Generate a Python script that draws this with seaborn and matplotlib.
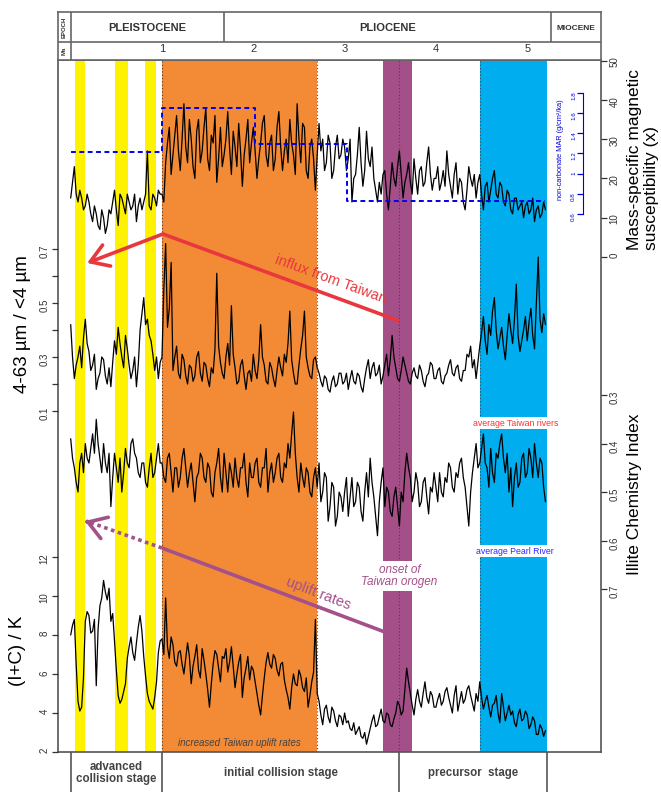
import numpy as np
import matplotlib
matplotlib.use("Agg")
import matplotlib.pyplot as plt
import seaborn as sns

sns.set_style("white")
plt.rcParams['font.family'] = ['Liberation Sans', 'DejaVu Sans']

# -----------------------------
# DATA
# -----------------------------
ages = np.round(np.arange(0.0, 5.2001, 0.02), 2)  # Ma, sample spacing

mag_sus = [15, 19, 23, 16, 14, 17, 15, 12, 13, 16, 14, 11, 9, 13, 11, 8, 7, 12, 10, 6, 8, 12, 11, 14, 17,
           12, 8, 16, 15, 13, 11, 16, 14, 12, 13, 16, 9, 13, 15, 12, 14, 16, 27, 13, 12, 16, 15, 13, 17, 16,
           16, 14, 24, 29, 33, 21, 26, 31, 36, 27, 22, 30, 39, 28, 24, 35, 30, 23, 20, 32, 35, 24, 27, 33, 38,
           25, 22, 31, 29, 36, 19, 25, 33, 23, 26, 30, 37, 28, 21, 32, 28, 23, 34, 27, 18, 26, 30, 35, 24, 29,
           33, 27, 20, 25, 29, 34, 36, 26, 23, 29, 31, 22, 25, 33, 37, 28, 22, 27, 30, 24, 35, 29, 26, 21, 39,
           30, 24, 34, 33, 22, 20, 28, 30, 25, 17, 26, 34, 27, 30, 22, 24, 31, 29, 20, 22, 28, 31, 25, 26, 30,
           28, 22, 25, 30, 14, 20, 21, 26, 33, 24, 18, 22, 32, 25, 23, 28, 20, 17, 14, 19, 16, 21, 22, 16, 12,
           18, 24, 20, 18, 23, 27, 21, 15, 19, 21, 24, 19, 16, 25, 20, 16, 22, 23, 18, 19, 24, 28, 21, 17, 20,
           20, 23, 17, 19, 22, 18, 27, 21, 18, 15, 21, 24, 16, 20, 19, 14, 12, 17, 23, 20, 18, 21, 15, 19, 21,
           16, 12, 18, 19, 14, 17, 20, 22, 16, 15, 19, 18, 14, 13, 17, 16, 12, 11, 15, 15, 12, 13, 14, 10, 13,
           14, 11, 12, 15, 9, 12, 13, 10, 11, 14, 12]

grain_ratio = [0.42, 0.30, 0.22, 0.27, 0.30, 0.34, 0.26, 0.37, 0.44, 0.35, 0.32, 0.25, 0.27, 0.31, 0.18, 0.22, 0.24, 0.30, 0.29, 0.23, 0.20, 0.26, 0.19, 0.28, 0.36,
               0.31, 0.41, 0.35, 0.30, 0.26, 0.38, 0.33, 0.27, 0.22, 0.25, 0.30, 0.19, 0.27, 0.40, 0.46, 0.52, 0.42, 0.44, 0.38, 0.36, 0.31, 0.25, 0.30, 0.22, 0.28,
               0.30, 0.55, 0.72, 0.41, 0.48, 0.65, 0.25, 0.30, 0.34, 0.24, 0.22, 0.31, 0.29, 0.23, 0.20, 0.27, 0.26, 0.21, 0.23, 0.30, 0.32, 0.24, 0.21, 0.28, 0.27,
               0.22, 0.19, 0.26, 0.24, 0.33, 0.61, 0.34, 0.28, 0.24, 0.22, 0.30, 0.35, 0.27, 0.49, 0.31, 0.26, 0.20, 0.21, 0.27, 0.29, 0.23, 0.18, 0.24, 0.25, 0.21,
               0.31, 0.25, 0.22, 0.29, 0.42, 0.30, 0.27, 0.21, 0.20, 0.28, 0.26, 0.22, 0.19, 0.25, 0.30, 0.26, 0.23, 0.31, 0.28, 0.35, 0.47, 0.29, 0.24, 0.20, 0.20,
               0.27, 0.33, 0.38, 0.47, 0.30, 0.26, 0.23, 0.22, 0.29, 0.30, 0.26, 0.24, 0.21, 0.19, 0.23, 0.22, 0.18, 0.17, 0.21, 0.23, 0.19, 0.20, 0.24, 0.24, 0.20,
               0.21, 0.24, 0.18, 0.22, 0.25, 0.21, 0.20, 0.24, 0.23, 0.19, 0.17, 0.22, 0.26, 0.29, 0.22, 0.26, 0.28, 0.23, 0.24, 0.27, 0.20, 0.23, 0.27, 0.31, 0.23,
               0.29, 0.38, 0.30, 0.26, 0.22, 0.21, 0.25, 0.30, 0.27, 0.24, 0.21, 0.20, 0.24, 0.26, 0.23, 0.22, 0.27, 0.25, 0.21, 0.19, 0.23, 0.24, 0.28, 0.27, 0.22,
               0.22, 0.25, 0.26, 0.21, 0.20, 0.23, 0.24, 0.27, 0.29, 0.24, 0.23, 0.26, 0.27, 0.22, 0.21, 0.25, 0.25, 0.31, 0.30, 0.34, 0.26, 0.29, 0.22, 0.28, 0.34,
               0.39, 0.45, 0.36, 0.31, 0.42, 0.38, 0.47, 0.52, 0.40, 0.33, 0.37, 0.41, 0.34, 0.29, 0.38, 0.46, 0.40, 0.35, 0.44, 0.57, 0.38, 0.32, 0.36, 0.40, 0.45,
               0.36, 0.43, 0.48, 0.38, 0.33, 0.50, 0.67, 0.44, 0.39, 0.46, 0.42]

illite_ci = [0.39, 0.43, 0.45, 0.48, 0.50, 0.44, 0.42, 0.46, 0.40, 0.43, 0.44, 0.41, 0.38, 0.42, 0.35, 0.40, 0.43, 0.46, 0.40, 0.44, 0.46, 0.42, 0.53, 0.47, 0.42,
             0.45, 0.48, 0.43, 0.50, 0.46, 0.41, 0.44, 0.45, 0.40, 0.39, 0.42, 0.43, 0.46, 0.47, 0.44, 0.44, 0.48, 0.49, 0.45, 0.42, 0.47, 0.46, 0.43, 0.40, 0.44,
             0.44, 0.47, 0.48, 0.43, 0.42, 0.46, 0.50, 0.45, 0.45, 0.49, 0.47, 0.43, 0.41, 0.45, 0.49, 0.46, 0.44, 0.48, 0.52, 0.47, 0.46, 0.42, 0.43, 0.47, 0.48,
             0.44, 0.45, 0.50, 0.51, 0.46, 0.44, 0.41, 0.47, 0.50, 0.42, 0.46, 0.50, 0.44, 0.46, 0.49, 0.43, 0.47, 0.49, 0.45, 0.45, 0.42, 0.48, 0.51, 0.44, 0.47,
             0.47, 0.44, 0.43, 0.48, 0.49, 0.45, 0.45, 0.41, 0.50, 0.46, 0.44, 0.48, 0.46, 0.43, 0.42, 0.47, 0.48, 0.44, 0.45, 0.40, 0.43, 0.38, 0.335, 0.42, 0.47,
             0.50, 0.44, 0.47, 0.49, 0.45, 0.46, 0.50, 0.51, 0.47, 0.45, 0.49, 0.44, 0.52, 0.50, 0.46, 0.47, 0.56, 0.53, 0.48, 0.49, 0.57, 0.55, 0.50, 0.51, 0.54,
             0.50, 0.47, 0.55, 0.51, 0.47, 0.53, 0.52, 0.48, 0.49, 0.54, 0.56, 0.50, 0.46, 0.51, 0.43, 0.48, 0.51, 0.55, 0.59, 0.52, 0.48, 0.45, 0.53, 0.49, 0.50,
             0.54, 0.55, 0.51, 0.49, 0.53, 0.57, 0.50, 0.52, 0.46, 0.42, 0.45, 0.47, 0.52, 0.50, 0.46, 0.48, 0.53, 0.52, 0.48, 0.47, 0.51, 0.545, 0.49, 0.50, 0.46,
             0.49, 0.52, 0.46, 0.50, 0.51, 0.47, 0.48, 0.44, 0.45, 0.49, 0.50, 0.46, 0.47, 0.44, 0.43, 0.47, 0.49, 0.53, 0.57, 0.50, 0.46, 0.43, 0.40, 0.45, 0.44,
             0.41, 0.38, 0.44, 0.45, 0.49, 0.41, 0.46, 0.48, 0.42, 0.43, 0.40, 0.38, 0.43, 0.46, 0.42, 0.50, 0.45, 0.53, 0.47, 0.44, 0.49, 0.48, 0.43, 0.42, 0.47,
             0.46, 0.41, 0.43, 0.47, 0.40, 0.44, 0.47, 0.43, 0.44, 0.49, 0.52]

ick = [8.0, 8.5, 8.8, 6.5, 4.6, 4.1, 4.3, 5.8, 8.7, 9.2, 9.0, 8.1, 8.2, 8.8, 5.4, 8.3, 9.5, 9.9, 10.8, 10.2, 9.8, 10.4, 8.7, 9.1, 7.7,
       6.2, 4.9, 4.5, 4.7, 5.1, 5.5, 6.8, 7.4, 7.9, 7.1, 6.7, 7.6, 8.4, 9.0, 8.2, 6.9, 5.9, 5.0, 4.6, 4.4, 4.2, 4.8, 5.6, 7.1, 7.7,
       7.8, 7.0, 9.9, 7.4, 6.8, 7.9, 7.5, 6.6, 6.4, 7.1, 7.2, 6.5, 6.0, 6.8, 7.6, 6.9, 5.5, 6.4, 6.9, 7.5, 6.2, 5.8, 7.3, 6.7, 6.0,
       5.2, 4.3, 5.5, 6.5, 7.2, 7.0, 6.3, 5.6, 6.9, 6.8, 7.3, 6.1, 6.6, 7.4, 6.4, 5.3, 6.0, 6.6, 7.0, 4.8, 5.8, 6.3, 6.9, 5.7, 6.4,
       6.2, 5.6, 5.0, 4.4, 3.9, 4.9, 5.8, 6.6, 7.1, 6.5, 6.3, 7.0, 6.8, 6.2, 5.9, 6.5, 6.6, 5.7, 5.2, 4.8, 4.2, 5.3, 6.0, 5.5, 5.4,
       6.2, 5.9, 5.3, 5.1, 5.8, 4.3, 4.9, 5.6, 6.1, 8.8, 5.0, 4.6, 3.9, 3.4, 4.2, 4.4, 3.8, 3.5, 4.3, 4.1, 3.6, 3.3, 3.9, 3.8, 3.4,
       4.0, 3.5, 3.6, 3.2, 3.1, 3.5, 2.9, 3.1, 3.3, 2.8, 2.7, 3.0, 2.4, 2.8, 3.2, 3.6, 3.9, 3.3, 3.4, 3.8, 4.2, 3.6, 3.5, 4.0, 3.9,
       3.4, 3.3, 3.7, 4.0, 4.6, 4.4, 3.9, 4.1, 5.2, 6.3, 5.6, 5.0, 4.4, 3.9, 4.7, 5.2, 4.6, 4.3, 5.0, 5.6, 4.8, 4.5, 5.1, 4.9, 4.3,
       4.3, 4.7, 5.0, 4.4, 4.6, 5.1, 5.3, 4.8, 4.4, 4.0, 4.9, 5.4, 4.1, 4.6, 5.1, 4.5, 4.7, 5.2, 5.4, 4.9, 4.5, 4.1, 5.0, 4.6, 5.6,
       4.8, 4.2, 4.6, 4.9, 4.3, 3.8, 4.4, 4.5, 4.9, 4.0, 3.5, 5.0, 4.3, 3.6, 4.0, 4.4, 3.9, 4.1, 3.5, 3.3, 3.9, 4.2, 3.6, 3.7, 4.1,
       3.9, 3.2, 3.4, 3.8, 3.6, 2.9, 2.9, 3.4, 3.2, 2.8, 3.1]

# non-carbonate MAR (step curve)
mar_ages = [0.0, 1.0, 2.02, 3.03, 5.2]
mar_vals = [1.21, 1.65, 1.29, 0.73, 0.73]

yellow_bands = [(0.05, 0.156), (0.485, 0.627), (0.814, 0.934)]
orange_band = (1.0, 2.70)
purple_band = (3.42, 3.74)
blue_band = (4.48, 5.22)
dotted_lines = [1.0, 2.70, 3.60, 4.48]

epochs = ["PLEISTOCENE", "PLIOCENE", "MIOCENE"]
epoch_edges = [0.0, 1.684, 5.26, 5.81]
stages = ["advanced\ncollision stage", "initial collision stage", "precursor  stage"]
stage_edges = [0.0, 1.0, 3.6, 5.22]

# -----------------------------
# LAYOUT
# -----------------------------
YELLOW, ORANGE, PURPLE, BLUE = "#fff200", "#f38a36", "#a44f88", "#00aeef"
RED, ARROW_PURPLE = "#e8383d", "#a4508a"
GREY = "#333333"
XLIM = (-0.139, 5.808)

W, H = 661, 792
L, R, T, B = 58, 601, 60, 752
fig = plt.figure(figsize=(W / 100, H / 100), dpi=100)
main_rect = [L / W, 1 - B / H, (R - L) / W, (B - T) / H]

ax0 = fig.add_axes(main_rect)
ax0.set_xlim(XLIM)
ax0.set_ylim(B, T)  # y in image rows, used for annotations
ax0.set_xticks([])
ax0.set_yticks([])
for s in ax0.spines.values():
    s.set_color("#555555")
    s.set_linewidth(1.2)

for a, b in yellow_bands:
    ax0.axvspan(a, b, color=YELLOW, lw=0)
ax0.axvspan(*orange_band, color=ORANGE, lw=0)
ax0.axvspan(*purple_band, color=PURPLE, lw=0)
ax0.axvspan(*blue_band, color=BLUE, lw=0)
for d in dotted_lines:
    ax0.axvline(d, color="#444444", ls=(0, (1, 2)), lw=0.8)


def overlay(ylim, side):
    a = fig.add_axes(main_rect, sharex=ax0)
    a.set_ylim(*ylim)
    a.patch.set_visible(False)
    for s in a.spines.values():
        s.set_visible(False)
    a.tick_params(axis="x", which="both", bottom=False, labelbottom=False)
    if side == "right":
        a.yaxis.tick_right()
    else:
        a.yaxis.tick_left()
    a.tick_params(axis="y", direction="out", length=4, width=0.9, color=GREY,
                  labelsize=7, labelcolor=GREY, labelrotation=90, pad=2)
    return a


# magnetic susceptibility (right)
ax_ms = overlay((-125.95, 50.13), "right")
sns.lineplot(x=ages, y=mag_sus, ax=ax_ms, color="black", lw=0.9, estimator=None)
ax_ms.set_yticks([0, 10, 20, 30, 40, 50])

# MAR inset axis (blue)
ax_mar = overlay((-4.727, 2.125), "left")
ax_mar.spines["left"].set_visible(True)
ax_mar.spines["left"].set_position(("axes", 0.9669))
ax_mar.spines["left"].set_bounds(0.6, 1.8)
ax_mar.spines["left"].set_color("#0000dd")
sns.lineplot(x=mar_ages, y=mar_vals, ax=ax_mar, color="#0000ee", lw=1.4,
             ls=(0, (2.5, 1.8)), drawstyle="steps-post", estimator=None)
ax_mar.set_yticks([0.6, 0.8, 1.0, 1.2, 1.4, 1.6, 1.8])
ax_mar.set_yticklabels(["0.6", "0.8", "1", "1.2", "1.4", "1.6", "1.8"])
ax_mar.tick_params(axis="y", color="#0000dd", labelcolor="#0000dd", labelsize=4.5, length=4, pad=1)
ax_mar.text(0.9245, 0.871, "non-carbonate MAR (g/cm\u00b2/ka)", transform=ax_mar.transAxes,
            rotation=90, ha="center", va="center", fontsize=5.3, color="#0000dd")

# 4-63 / <4 ratio (left)
ax_gr = overlay((-1.163, 1.4), "left")
sns.lineplot(x=ages, y=grain_ratio, ax=ax_gr, color="black", lw=0.9, estimator=None)
ax_gr.set_yticks([0.1, 0.2, 0.3, 0.4, 0.5, 0.6, 0.7])
ax_gr.set_yticklabels(["0.1", "", "0.3", "", "0.5", "", "0.7"])

# illite chemistry index (right, inverted)
ax_ic = overlay((1.036, -0.391), "right")
sns.lineplot(x=ages, y=illite_ci, ax=ax_ic, color="black", lw=0.9, estimator=None)
ax_ic.set_yticks([0.3, 0.4, 0.5, 0.6, 0.7])

# (I+C)/K (left)
ax_k = overlay((2, 37.49), "left")
sns.lineplot(x=ages, y=ick, ax=ax_k, color="black", lw=0.9, estimator=None)
ax_k.set_yticks([2, 4, 6, 8, 10, 12])

for a in (ax_ms, ax_mar, ax_gr, ax_ic, ax_k):
    a.set_xlabel("")
    a.set_ylabel("")

# axis titles
fig.text(643 / W, 1 - 250 / H, "Mass-specific magnetic\nsusceptibility (x)", rotation=90,
         ha="center", va="bottom", multialignment="left", fontsize=12.5, color="black")
fig.text(635 / W, 1 - 494 / H, "Illite Chemistry Index", rotation=90,
         ha="center", va="center", fontsize=12.5, color="black")
fig.text(23 / W, 1 - 324 / H, "4-63 \u00b5m / <4 \u00b5m", rotation=90,
         ha="center", va="center", fontsize=13.5, color="black")
fig.text(18 / W, 1 - 651 / H, "(I+C) / K", rotation=90,
         ha="center", va="center", fontsize=13.5, color="black")

# -----------------------------
# ANNOTATIONS
# -----------------------------
ax0.plot([3.60, 1.01], [321, 234], color=RED, lw=2.6, solid_capstyle="butt")
ax0.annotate("", xy=(0.18, 263), xytext=(1.01, 234),
             arrowprops=dict(arrowstyle="->,head_length=0.7,head_width=0.45", lw=2.6,
                             color=RED, mutation_scale=18, shrinkA=0, shrinkB=0))
ax0.text(2.85, 279, "influx from Taiwan", rotation=-20, ha="center", va="center",
         fontsize=10.5, color=RED)

ax0.plot([3.44, 1.0], [632, 548], color=ARROW_PURPLE, lw=2.6, solid_capstyle="butt")
ax0.plot([1.0, 0.17], [548, 521], color=ARROW_PURPLE, lw=2.6, ls=(0, (1, 1)))
ax0.annotate("", xy=(0.155, 521), xytext=(0.18, 521.8),
             arrowprops=dict(arrowstyle="->,head_length=0.7,head_width=0.45", lw=2.6,
                             color=ARROW_PURPLE, mutation_scale=18, shrinkA=0, shrinkB=0))
ax0.text(2.71, 594, "uplift rates", rotation=-21, ha="center", va="center",
         fontsize=10.5, color=ARROW_PURPLE)

ax0.text(1.85, 743, "increased Taiwan uplift rates", ha="center", va="center",
         fontsize=7, style="italic", color="#444444")
ax0.text(3.60, 576, "onset of\nTaiwan orogen", ha="center", va="center", fontsize=8.5,
         style="italic", color=ARROW_PURPLE, linespacing=1.1,
         bbox=dict(facecolor="white", edgecolor="none", pad=2))
ax0.text(4.87, 423, "average Taiwan rivers", ha="center", va="center", fontsize=6.3,
         color="#ff3030", bbox=dict(facecolor="white", edgecolor="none", pad=1.2))
ax0.text(4.87, 551, "average Pearl River", ha="center", va="center", fontsize=6.3,
         color="#2a2aff", bbox=dict(facecolor="white", edgecolor="none", pad=1.2))

# -----------------------------
# HEADER (epochs + Ma scale)
# -----------------------------
hax = fig.add_axes([L / W, 1 - T / H, (R - L) / W, (T - 12) / H])
hax.set_xlim(XLIM)
hax.set_ylim(T, 12)
hax.set_yticks([])
for s in hax.spines.values():
    s.set_color("#666666")
    s.set_linewidth(1.2)
hax.axhline(42, color="#666666", lw=1.2)
hax.axvline(epoch_edges[0], color="#666666", lw=1.2)
hax.vlines(epoch_edges[1:3], 12, 42, color="#666666", lw=1.2)
for name, a, b in zip(epochs, epoch_edges[:-1], epoch_edges[1:]):
    hax.text((a + b) / 2, 28, name, ha="center", va="center", fontweight="bold",
             fontsize=6 if name == "MIOCENE" else 8, color=GREY)
hax.set_xticks([1, 2, 3, 4, 5])
hax.set_xticks([0.5, 1.5, 2.5, 3.5, 4.5, 5.5], minor=True)
hax.tick_params(axis="x", which="both", direction="in", length=5, width=1,
                color="#555555", labelbottom=False)
for m in range(1, 6):
    hax.text(m, 49, str(m), ha="center", va="center", fontsize=8, color=GREY)
hax.text(-0.07, 27, "EPOCH", rotation=90, ha="center", va="center", fontsize=4.3,
         fontweight="bold", color=GREY)
hax.text(-0.07, 51, "Ma", rotation=90, ha="center", va="center", fontsize=4.3,
         fontweight="bold", color=GREY)

# -----------------------------
# STAGES ROW
# -----------------------------
sax = fig.add_axes([L / W, 0, (R - L) / W, (H - B) / H])
sax.set_xlim(XLIM)
sax.set_ylim(H, B)
sax.axis("off")
sax.vlines(stage_edges, B, H, color="#555555", lw=1.2)
for name, a, b in zip(stages, stage_edges[:-1], stage_edges[1:]):
    sax.text((a + b) / 2, 773, name, ha="center", va="center", fontweight="bold",
             fontsize=8.3, color="#444444", linespacing=1.05)

fig.savefig("out.png", dpi=100)
